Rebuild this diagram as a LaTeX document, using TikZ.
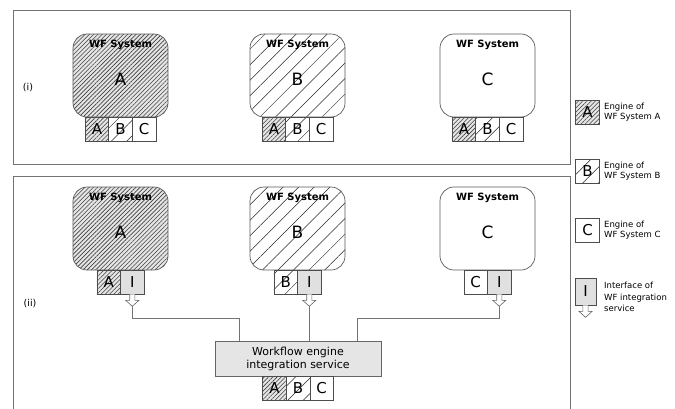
\documentclass[tikz,border=0pt]{standalone}
\usepackage{fontspec}
\setmainfont{DejaVu Sans}
\usetikzlibrary{patterns.meta,calc}
\begin{document}
\begin{tikzpicture}[x=1pt,y=-1pt,
  frame/.style={draw=black!55, line width=0.7pt},
  sysbox/.style={draw=black!65, line width=0.7pt, rounded corners=14pt, minimum width=95pt, minimum height=83pt, inner sep=0pt},
  cell/.style={draw=black!70, line width=0.6pt, minimum width=23.6pt, minimum height=24pt, inner sep=0pt, font=\fontsize{15}{15}\selectfont},
  icell/.style={cell, fill=black!12},
  patA/.style={preaction={fill=black!10}, pattern={Lines[angle=45,distance=3pt,line width=0.6pt]}, pattern color=black!75},
  patB/.style={pattern={Lines[angle=45,distance=11pt,line width=0.5pt]}, pattern color=black!85},
  title/.style={font=\bfseries\fontsize{10}{10}\selectfont},
  big/.style={font=\fontsize{17}{17}\selectfont},
  conn/.style={draw=black!55, line width=0.7pt},
  barrow/.style={draw=black!60, fill=white, line width=0.6pt},
  legtext/.style={font=\fontsize{8.5}{10.5}\selectfont, align=left, anchor=west, inner sep=0pt},
  svcbox/.style={draw=black!60, fill=black!10, line width=0.6pt, minimum width=166pt, minimum height=35pt, align=center, inner sep=0pt, font=\fontsize{11}{13}\selectfont},
  lbl/.style={font=\fontsize{9.5}{10}\selectfont}
]
\useasboundingbox (0,0) rectangle (675,408);
% frames
\node[frame, minimum width=557pt, minimum height=154pt, inner sep=0pt] (frame1) at (291.5,87) {};
\draw[frame] (13,410) -- (13,176) -- (570,176) -- (570,410);
\node[lbl] (li) at (28,88) {(i)};
\node[lbl] (lii) at (30,304) {(ii)};

% ---------- Panel (i) ----------
\node[sysbox, patA] (sA1) at (120.5,75.5) {};
\node[title] (tA1) at (120.5,45) {WF System};
\node[big] (bA1) at (120.5,79) {A};
\node[sysbox, patB] (sB1) at (297.5,75.5) {};
\node[title] (tB1) at (297.5,45) {WF System};
\node[big] (bB1) at (297.5,79) {B};
\node[sysbox] (sC1) at (487.5,75.5) {};
\node[title] (tC1) at (487.5,45) {WF System};
\node[big] (bC1) at (487.5,79) {C};

\foreach \cx/\n in {120.5/a,297.5/b,487.5/c}{
  \node[cell, patA] (\n1A) at (\cx-23.6,129) {A};
  \node[cell, patB] (\n1B) at (\cx,129) {B};
  \node[cell] (\n1C) at (\cx+23.6,129) {C};
}

% ---------- Panel (ii) ----------
\node[sysbox, patA] (sA2) at (120.5,228.5) {};
\node[title] (tA2) at (120.5,198) {WF System};
\node[big] (bA2) at (120.5,232) {A};
\node[sysbox, patB] (sB2) at (297.5,228.5) {};
\node[title] (tB2) at (297.5,198) {WF System};
\node[big] (bB2) at (297.5,232) {B};
\node[sysbox] (sC2) at (487.5,228.5) {};
\node[title] (tC2) at (487.5,198) {WF System};
\node[big] (bC2) at (487.5,232) {C};

\node[cell, patA] (eA) at (108.7,282) {A};
\node[icell] (iA) at (132.3,282) {I};
\node[cell, patB] (eB) at (285.7,282) {B};
\node[icell] (iB) at (309.3,282) {I};
\node[cell] (eC) at (475.7,282) {C};
\node[icell] (iC) at (499.3,282) {I};

% block arrows
\foreach \n in {iA,iB,iC}{
  \draw[barrow] ($(\n.south)+(-2.6,0)$) -- ++(0,6) -- ++(-4,0) -- ($(\n.south)+(0,12)$) coordinate (\n tip)
     -- ($(\n.south)+(6.6,6)$) -- ++(-4,0) -- ($(\n.south)+(2.6,0)$);
}

% service
\node[svcbox] (svc) at (298,358.5) {Workflow engine\\integration service};
\node[cell, patA] (sa) at (274.4,388.5) {A};
\node[cell, patB] (sb) at (298,388.5) {B};
\node[cell] (sc) at (321.6,388.5) {C};

\coordinate (inA) at (239,341);
\coordinate (inC) at (357,341);
\draw[conn] (iAtip) |- (239,318) -- (inA);
\draw[conn] (iBtip) -- (iBtip |- svc.north);
\draw[conn] (iCtip) |- (357,318) -- (inC);

% ---------- Legend ----------
\node[cell, patA, minimum width=23.5pt] (lA) at (587.5,112) {A};
\node[legtext] (ltA) at (604,112) {Engine of\\WF System A};
\node[cell, patB, minimum width=23.5pt] (lB) at (587.5,171) {B};
\node[legtext] (ltB) at (604,171) {Engine of\\WF System B};
\node[cell, minimum width=23.5pt] (lC) at (587.5,230) {C};
\node[legtext] (ltC) at (604,230) {Engine of\\WF System C};
\node[icell, minimum width=21pt, minimum height=27pt] (lI) at (585.5,291.5) {I};
\draw[barrow] ($(lI.south)+(-2.6,0)$) -- ++(0,6) -- ++(-4,0) -- ($(lI.south)+(0,12)$)
     -- ($(lI.south)+(6.6,6)$) -- ++(-4,0) -- ($(lI.south)+(2.6,0)$);
\node[legtext, font=\fontsize{8.5}{11.5}\selectfont] (ltI) at (604,297) {Interface of\\WF integration\\service};
\end{tikzpicture}
\end{document}
